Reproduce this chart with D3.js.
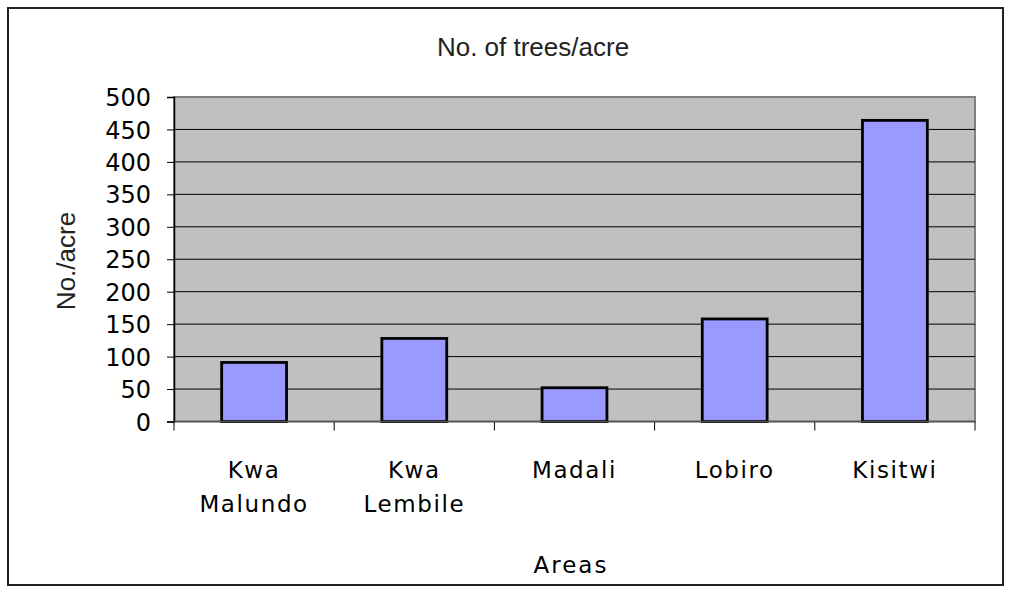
<!DOCTYPE html>
<meta charset="utf-8">
<script src="https://d3js.org/d3.v7.min.js"></script>
<style>
body { margin: 0; background: #fff; }
text { font-family: "DejaVu Sans", sans-serif; fill: #000; }
.helv { font-family: "Liberation Sans", Arial, sans-serif; fill: #222; }
.grid line { stroke: #000; stroke-width: 1; }
.axis path { stroke: #000; }
.axis line { stroke: #000; }
.bar { fill: #9999ff; stroke: #000; stroke-width: 2.8; }
</style>
<body>
<script>

var areas = [["Kwa", "Malundo"], ["Kwa", "Lembile"], ["Madali"], ["Lobiro"], ["Kisitwi"]]
var treesPerAcre = [91, 128, 52, 158, 464]
var yTicks = [0, 50, 100, 150, 200, 250, 300, 350, 400, 450, 500]

var W = 1009, H = 592
var plot = {left: 174, top: 97, right: 975, bottom: 421.5}

var svg = d3.select("body").append("svg")
  .attr("width", W)
  .attr("height", H)

// outer frame
svg.append("rect")
  .attr("x", 8).attr("y", 8)
  .attr("width", 995).attr("height", 577)
  .attr("fill", "#fff")
  .attr("stroke", "#222")
  .attr("stroke-width", 2)

var xScale = d3.scaleBand()
  .domain(d3.range(areas.length))
  .range([plot.left, plot.right])

var yScale = d3.scaleLinear()
  .domain([0, 500])
  .range([plot.bottom, plot.top])

// plot area
svg.append("rect")
  .attr("x", plot.left).attr("y", plot.top)
  .attr("width", plot.right - plot.left)
  .attr("height", plot.bottom - plot.top)
  .attr("fill", "#c0c0c0")
  .attr("stroke", "#808080")
  .attr("stroke-width", 2)

svg.append("g")
  .attr("class", "grid")
  .selectAll("line")
  .data(yTicks.filter(function(d) { return d > 0 && d < 500 }))
  .enter().append("line")
  .attr("x1", plot.left).attr("x2", plot.right)
  .attr("y1", function(d) { return yScale(d) })
  .attr("y2", function(d) { return yScale(d) })

// bars
var barW = xScale.bandwidth() * 0.405
svg.selectAll(".bar")
  .data(treesPerAcre)
  .enter().append("rect")
  .attr("class", "bar")
  .attr("x", function(d, i) { return xScale(i) + (xScale.bandwidth() - barW) / 2 })
  .attr("y", function(d) { return yScale(d) })
  .attr("width", barW)
  .attr("height", function(d) { return yScale(0) - yScale(d) })

// y axis
var yAxis = d3.axisLeft(yScale)
  .tickValues(yTicks)
  .tickSize(7)
  .tickPadding(16)

var gy = svg.append("g")
  .attr("class", "axis y")
  .attr("transform", "translate(" + plot.left + ",0)")
  .call(yAxis)
gy.select(".domain").attr("stroke", "#333").attr("stroke-width", 1.5)
gy.selectAll("text").style("font-size", "24px").attr("dy", "0.36em")

// x axis ticks at category boundaries
var bounds = d3.range(areas.length).map(function(i) { return xScale(i) }).concat([plot.right])
svg.append("g")
  .attr("class", "axis x")
  .selectAll("line")
  .data(bounds)
  .enter().append("line")
  .attr("x1", function(d) { return d }).attr("x2", function(d) { return d })
  .attr("y1", plot.bottom).attr("y2", plot.bottom + 9)
  .attr("stroke", "#000")

svg.append("line")
  .attr("x1", plot.left).attr("x2", plot.right)
  .attr("y1", plot.bottom).attr("y2", plot.bottom)
  .attr("stroke", "#555").attr("stroke-width", 1.5)

// category labels
var labels = svg.append("g").selectAll("text")
  .data(areas)
  .enter().append("text")
  .attr("x", function(d, i) { return xScale(i) + xScale.bandwidth() / 2 })
  .attr("y", 478)
  .attr("text-anchor", "middle")
  .style("font-size", "23px")
  .style("letter-spacing", "1.6px")

labels.selectAll("tspan")
  .data(function(d) { return d })
  .enter().append("tspan")
  .attr("x", function() { return d3.select(this.parentNode).attr("x") })
  .attr("dy", function(d, i) { return i == 0 ? 0 : 34 })
  .text(function(d) { return d })

// titles
svg.append("text")
  .attr("class", "helv")
  .attr("x", 533).attr("y", 56)
  .attr("text-anchor", "middle")
  .style("font-size", "26px")
  .text("No. of trees/acre")

svg.append("text")
  .attr("x", 571).attr("y", 573)
  .attr("text-anchor", "middle")
  .style("font-size", "23px")
  .style("letter-spacing", "2px")
  .text("Areas")

svg.append("text")
  .attr("class", "helv")
  .attr("transform", "translate(75,261) rotate(-90)")
  .attr("text-anchor", "middle")
  .style("font-size", "26px")
  .text("No./acre")

</script>
</body>
